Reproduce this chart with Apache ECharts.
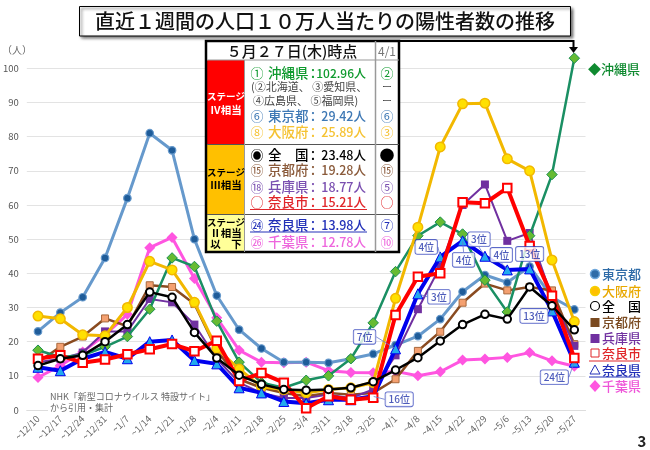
<!DOCTYPE html>
<html>
<head>
<meta charset="utf-8">
<script src="https://cdn.jsdelivr.net/npm/echarts@6/dist/echarts.min.js"></script>
<style>
html, body { margin: 0; padding: 0; background: #fff; }
#main { width: 650px; height: 450px; }
</style>
</head>
<body>
<div id="main"></div>
<script>
const FONT = '"Noto Sans CJK JP", sans-serif';

const dates = ["~12/10", "~12/17", "~12/24", "~12/31", "~1/7", "~1/14", "~1/21", "~1/28", "~2/4", "~2/11", "~2/18", "~2/25", "~3/4", "~3/11", "~3/18", "~3/25", "~4/1", "~4/8", "~4/15", "~4/22", "~4/29", "~5/6", "~5/13", "~5/20", "~5/27"];
const yTicks = [0, 10, 20, 30, 40, 50, 60, 70, 80, 90, 100];

const tokyo = [23, 28.5, 33, 44.5, 62, 81, 76, 50, 33.5, 23.5, 18, 14, 14, 13.8, 15, 16.4, 19, 21.6, 26.6, 34.6, 39.5, 37.3, 42, 33, 29.42];
const osaka = [27.5, 26.7, 22, 21.7, 30, 43.5, 41, 31.5, 18, 12, 6.8, 6, 5, 6, 6.5, 8, 32.7, 53.5, 77, 89.6, 89.8, 73.5, 70, 43.9, 25.89];
const okinawa = [17.5, 15.5, 16, 18.5, 21.5, 29.5, 44.5, 42, 26, 14, 8, 6.5, 8.7, 10, 15, 25.5, 40.5, 51, 55, 51.5, 38, 28.7, 51, 68.9, 102.96];
const kyoto = [14, 18.5, 21.5, 26.8, 24.5, 36.5, 36, 31, 17.5, 9, 6.5, 5, 4, 5, 4.5, 5, 9, 17.3, 22.9, 31.4, 37, 35, 36, 35, 19.28];
const hyogo = [14, 15, 16.8, 23, 23, 32.5, 31.5, 25, 15, 8, 5, 3.5, 3.5, 4.5, 3.5, 6, 16, 29.5, 42, 60, 66, 49.5, 51.8, 33, 18.77];
const naraCity = [15, 16, 13.8, 14.8, 16.3, 17.8, 19.3, 17.2, 20.3, 8.5, 10.8, 8, 0.5, 4, 3, 3.6, 27.8, 39, 40, 60.8, 60.5, 65, 48, 33.4, 15.21];
const naraPref = [12.5, 11.5, 15, 17, 15, 20, 20.5, 14.5, 13.5, 6.5, 5, 2.5, 2, 3, 3, 4, 17.9, 34, 44.8, 49.5, 45, 41, 41.3, 29, 13.98];
const national = [13, 15, 16, 20, 25, 34.5, 33, 22.7, 15.2, 10.2, 7.5, 6, 5.8, 6, 6.5, 8.3, 11.7, 15.3, 20.2, 25, 28, 26.6, 36, 30.5, 23.48];
const chiba = [9.5, 13, 17, 22, 28, 47.5, 50.5, 38.5, 27, 17.5, 14, 13.8, 14, 11.5, 11, 10.9, 11.3, 10, 11.2, 14.6, 14.9, 15.4, 16.8, 14.4, 12.78];

// 奈良県の順位（~3/25以降）
const rankStart = 15;
const ranks = ["16位", "7位", "3位", "4位", "4位", "3位", "4位", "13位", "13位", "24位"];

const titleText = "直近１週間の人口１０万人当たりの陽性者数の推移";
const tableHead = "５月２７日(木)時点";
const rowMarks = ["①", "⑥", "⑧", "◉", "⑮", "⑱", "○", "㉔", "㉖"];
const rowNames = ["沖縄県", "東京都", "大阪府", "全　国", "京都府", "兵庫県", "奈良市", "奈良県", "千葉県"];
const rowValues = ["102.96人", "29.42人", "25.89人", "23.48人", "19.28人", "18.77人", "15.21人", "13.98人", "12.78人"];
const rowApril = ["②", "⑥", "③", "●", "⑮", "⑤", "○", "⑦", "⑩"];

// 各行の位置と色
const rowY = [73, 116, 132, 155, 170, 187, 202, 225, 242];
const rowColor = ["#0f9a2e", "#3f79b5", "#f5c232", "#000", "#8a5a3a", "#7a4fb0", "#e0262a", "#2230b8", "#ee66dd"];

const g = [];
function rect(x, y, w, h, fill, extra) {
  g.push({ type: "rect", z: 30, shape: { x, y, width: w, height: h }, style: Object.assign({ fill }, extra || {}) });
}
function line(x1, y1, x2, y2, stroke, lineWidth) {
  g.push({ type: "line", z: 31, shape: { x1, y1, x2, y2 }, style: { stroke, lineWidth } });
}
function text(x, y, str, size, fill, align, weight) {
  g.push({
    type: "text", z: 32,
    style: { x, y, text: str, fill, align: align || "left", verticalAlign: "middle", font: (weight || "normal") + " " + size + "px " + FONT, textAlign: align || "left", textVerticalAlign: "middle" },
  });
}

// 出典の白地（目盛線を隠す）
g.push({ type: "rect", z: 1, shape: { x: 48, y: 390, width: 152, height: 24 }, style: { fill: "#fff" } });
text(50, 397, "NHK「新型コロナウイルス 特設サイト」", 9, "#666");
text(50, 408, "から引用・集計", 9, "#666");
text(2, 50, "（人）", 10, "#666");
text(642, 441, "3", 15, "#222", "center", "bold");

// タイトル
rect(79.5, 6.5, 491, 29.5, "#fff", { stroke: "#000", lineWidth: 1, shadowBlur: 3, shadowColor: "rgba(0,0,0,.6)", shadowOffsetX: 2, shadowOffsetY: 2 });
text(325, 21, titleText, 20, "#111", "center", "500");

// 表
rect(206, 41, 193, 211, "#fff");
rect(207, 60, 37, 85, "#ff0000");
rect(207, 145, 37, 69, "#ffc000");
rect(207, 214, 37, 37, "#ffff99");
line(207, 60, 399, 60, "#999", 1);
line(207, 144.5, 399, 144.5, "#555", 1);
line(207, 214.5, 399, 214.5, "#555", 1);
line(244.5, 60, 244.5, 252, "#999", 1);
line(375.5, 41, 375.5, 252, "#999", 1.5);
rect(206, 41, 193, 211, "transparent", { stroke: "#000", lineWidth: 2.5 });
text(292, 51, tableHead, 15, "#111", "center", "500");
text(387, 51, "4/1", 12, "#777", "center");

text(226, 96, "ステージ", 9.5, "#fff", "center", "bold");
text(226, 110, "Ⅳ相当", 10.5, "#fff", "center", "bold");
text(226, 172, "ステージ", 9.5, "#000", "center", "bold");
text(226, 185, "Ⅲ相当", 10.5, "#000", "center", "bold");
text(226, 222, "ステージ", 9.5, "#000", "center", "bold");
text(226, 233, "Ⅱ相当", 10.5, "#000", "center", "bold");
text(226, 244, "以　下", 10.5, "#000", "center", "bold");

rowNames.forEach((name, i) => {
  const c = rowColor[i];
  text(257, rowY[i], rowMarks[i], 13, i === 3 ? "#000" : c, "center");
  text(268, rowY[i], name, 13.5, c, "left", "500");
  text(313, rowY[i], "：", 13, c, "center", "500");
  text(366, rowY[i], rowValues[i], i === 0 ? 12 : 12.5, c, "right", "500");
  text(387, rowY[i], rowApril[i], i === 3 ? 15 : 13, i === 3 ? "#000" : c, "center");
});
text(251, 87, "(②北海道、 ③愛知県、", 11, "#444");
text(253, 101, "④広島県、 ⑤福岡県)", 11, "#444");
text(387, 87, "ー", 10, "#444", "center");
text(387, 101, "ー", 10, "#444", "center");
line(250, 209.5, 367, 209.5, "#e0262a", 1);
line(250, 232, 367, 232, "#2230b8", 1);

// 沖縄県への矢印
g.push({ type: "polyline", z: 31, shape: { points: [[399, 41], [573.5, 41], [573.5, 48]] }, style: { stroke: "#000", lineWidth: 2, fill: "none" } });
g.push({ type: "polygon", z: 31, shape: { points: [[569, 47], [578, 47], [573.5, 53]] }, style: { fill: "#000" } });

// 右側の凡例
text(588, 69, "◆沖縄県", 13, "#0f8a30", "left", "500");
g.push({ type: "circle", z: 32, shape: { cx: 595, cy: 274, r: 4.5 }, style: { fill: "#2f6ca8", stroke: "#6fa8dc", lineWidth: 1.5 } });
text(602, 274, "東京都", 13, "#2f6ca8", "left", "500");
g.push({ type: "circle", z: 32, shape: { cx: 595, cy: 291, r: 4.5 }, style: { fill: "#ffc000", stroke: "#f5d000", lineWidth: 1.5 } });
text(602, 291, "大阪府", 13, "#e8a800", "left", "500");
g.push({ type: "circle", z: 32, shape: { cx: 595, cy: 306, r: 4.5 }, style: { fill: "#fff", stroke: "#000", lineWidth: 1.2 } });
text(602, 306, "全　国", 13, "#000", "left", "500");
g.push({ type: "rect", z: 32, shape: { x: 590.5, y: 318, width: 9, height: 9 }, style: { fill: "#7a4a20" } });
text(602, 322.5, "京都府", 13, "#7a4a20", "left", "500");
g.push({ type: "rect", z: 32, shape: { x: 590.5, y: 334, width: 9, height: 9 }, style: { fill: "#7030a0" } });
text(602, 338.5, "兵庫県", 13, "#7030a0", "left", "500");
g.push({ type: "rect", z: 32, shape: { x: 591, y: 349, width: 8, height: 8 }, style: { fill: "#fff", stroke: "#e0262a", lineWidth: 1 } });
text(602, 353.5, "奈良市", 13, "#e0262a", "left", "500");
line(589, 361, 640, 361, "#e0262a", 1);
g.push({ type: "polygon", z: 32, shape: { points: [[595, 365], [600, 374], [590, 374]] }, style: { fill: "#fff", stroke: "#2230b8", lineWidth: 1 } });
text(602, 370, "奈良県", 13, "#2230b8", "left", "500");
line(589, 377, 640, 377, "#2230b8", 1);
g.push({ type: "polygon", z: 32, shape: { points: [[595, 380], [600.5, 386], [595, 392], [589.5, 386]] }, style: { fill: "#ff55e0" } });
text(602, 386, "千葉県", 13, "#ee55d8", "left", "500");

function makeSeries(name, data, color, width, symbol, size, fill, border, borderWidth, z) {
  return {
    name, type: "line", data, z, clip: false, animation: false,
    symbol, symbolSize: size, showAllSymbol: true,
    lineStyle: { color, width },
    itemStyle: { color: fill, borderColor: border, borderWidth },
    emphasis: { disabled: true },
  };
}

// 吹き出しの位置（点からのずれ）
const calloutOffset = [[26, 3], [-31, -12], [21, 3], [-14, -10], [1, 19], [-6, -17], [-6, -15], [0, -15], [-18, 5], [-20, 15]];

const option = {
  animation: false,
  textStyle: { fontFamily: FONT },
  grid: { left: 25.5, right: 64.5, top: 68.3, bottom: 40 },
  xAxis: {
    type: "category", data: dates, boundaryGap: true,
    axisTick: { show: false },
    axisLine: { lineStyle: { color: "#ddd" } },
    axisLabel: { rotate: 45, interval: 0, fontSize: 9.5, color: "#666", margin: 7, fontFamily: FONT },
  },
  yAxis: {
    type: "value", min: 0, max: 100, interval: 10,
    axisLine: { show: false }, axisTick: { show: false },
    axisLabel: { fontSize: 9.5, color: "#555", margin: 8, customValues: yTicks, fontFamily: FONT },
    splitLine: { lineStyle: { color: "#e3e3e3" } },
  },
  series: [
    makeSeries("千葉県", chiba, "#ff55e0", 3, "diamond", 11, "#ff55e0", "#ff55e0", 0, 3),
    makeSeries("東京都", tokyo, "#6699cc", 3, "circle", 7.5, "#1f5c99", "#6699cc", 1.2, 4),
    makeSeries("京都府", kyoto, "#8a4b20", 2.5, "rect", 7, "#f4a070", "#a8683c", 1, 5),
    makeSeries("兵庫県", hyogo, "#7030a0", 2, "rect", 8, "#7030a0", "#7030a0", 0, 6),
    makeSeries("沖縄県", okinawa, "#1a8f63", 2.5, "diamond", 10.5, "#66bb33", "#1a8f50", 1, 7),
    makeSeries("大阪府", osaka, "#f2b800", 3, "circle", 9.5, "#ffe000", "#f2b800", 1.5, 8),
    makeSeries("奈良県", naraPref, "#0000ee", 4, "triangle", 10, "#22aaee", "#0000ee", 1, 9),
    makeSeries("奈良市", naraCity, "#ff0000", 4, "rect", 8.5, "#fff", "#ff0000", 2, 10),
    makeSeries("全国", national, "#000", 2.5, "circle", 7.5, "#fff", "#000", 2, 11),
    {
      // 順位の吹き出し
      type: "scatter", z: 20, animation: false, silent: true,
      symbolSize: 1, itemStyle: { color: "transparent" },
      data: ranks.map((r, i) => ({
        value: [dates[rankStart + i], naraPref[rankStart + i]],
        label: { formatter: r },
      })),
      label: {
        show: true, position: "inside", fontSize: 10, fontWeight: 500, color: "#2233aa",
        backgroundColor: "#fff", borderColor: "#3344bb", borderWidth: 0.8, borderRadius: 2,
        padding: [2, 3],
      },
      labelLine: { show: true, lineStyle: { color: "#6677cc", width: 0.8 } },
      labelLayout: (p) => ({ dx: calloutOffset[p.dataIndex][0], dy: calloutOffset[p.dataIndex][1] }),
    },
  ],
  graphic: g,
};

const myChart = echarts.init(document.getElementById("main"), null, { renderer: "canvas" });
myChart.setOption(option);
</script>
</body>
</html>
